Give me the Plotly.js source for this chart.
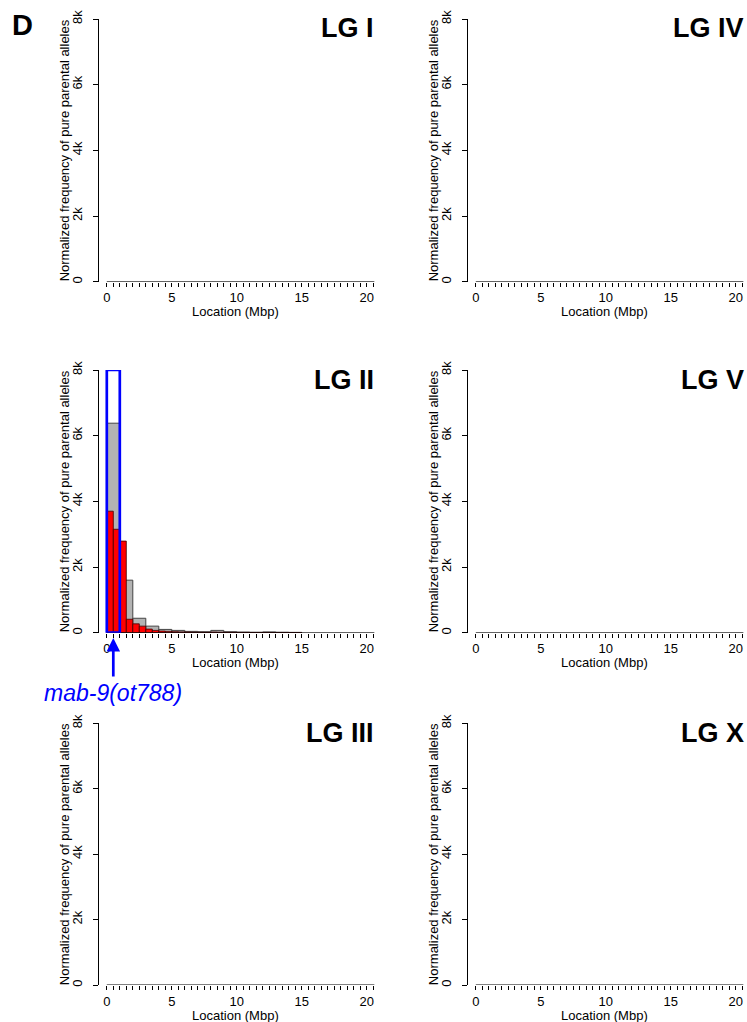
<!DOCTYPE html>
<html>
<head>
<meta charset="utf-8">
<script src="https://cdn.plot.ly/plotly-3.0.1.min.js"></script>
<style>html,body{margin:0;padding:0;background:#fff;}#chart{width:747px;height:1022px;}</style>
</head>
<body>
<div id="chart"></div>
<script>
// ---- data ----
var panelNames = ['LG I', 'LG II', 'LG III', 'LG IV', 'LG V', 'LG X'];
// LG II: grey histogram (1 Mbp bins), red histogram (0.5 Mbp bins)
var grayBinStart = [0, 1, 2, 3, 4, 5, 6, 7, 8, 9, 10, 11, 12, 13, 14];
var grayBinWidth = 1;
var grayValues = [6380, 1600, 440, 200, 100, 70, 40, 30, 70, 30, 20, 15, 25, 15, 10];
var redBinStart = [0, 0.5, 1, 1.5, 2, 2.5, 3, 3.5, 4, 4.5, 5, 5.5, 6, 6.5, 7, 7.5, 8, 8.5, 9, 9.5, 10, 10.5, 11, 11.5, 12, 12.5, 13, 13.5, 14, 14.5];
var redBinWidth = 0.5;
var redValues = [3700, 3150, 2790, 410, 270, 200, 110, 70, 50, 40, 30, 25, 20, 15, 12, 10, 20, 15, 10, 10, 8, 8, 6, 6, 8, 6, 5, 5, 4, 4];
var yTickVals = [0, 2000, 4000, 6000, 8000];
var yTickText = ['0', '2k', '4k', '6k', '8k'];
var xLabelVals = [0, 5, 10, 15, 20];
var xLabelText = ['0', '5', '10', '15', '20'];
var markerLocus = 0.5;      // mab-9(ot788) position, Mbp
var markerBox = [0, 1];     // highlighted interval, Mbp
var markerLabel = 'mab-9(ot788)';
var xTitle = 'Location (Mbp)';
var yTitle = 'Normalized frequency of pure parental alleles';

// ---- layout helpers ----
var W = 747, H = 1022;
function px(x) { return x / W; }
function py(y) { return 1 - y / H; }
var FONT = 'Liberation Sans, Arial, Helvetica, sans-serif';

var colLeft = [99, 468];             // y-axis line x (px)
var plotW = 275.6;
var rowTop = [19, 370, 723.3];
var rowBot = [281.7, 632.7, 985];
var xRange = [-0.6, 20.6];

// minor tick every 0.5 Mbp, labels only at 0,5,10,15,20
var xTickVals = [], xTickText = [];
for (var t = 0; t <= 20.5 + 1e-9; t += 0.5) {
  xTickVals.push(t);
  var k = xLabelVals.indexOf(t);
  xTickText.push(k >= 0 ? xLabelText[k] : '');
}

var layout = {
  width: W, height: H,
  margin: {l: 0, r: 0, t: 0, b: 0},
  paper_bgcolor: '#fff', plot_bgcolor: '#fff',
  showlegend: false,
  barmode: 'overlay',
  font: {family: FONT, size: 13, color: '#000'},
  annotations: [], shapes: []
};

var data = [];
for (var i = 0; i < 6; i++) {
  var col = i < 3 ? 0 : 1, row = i % 3;
  var n = i === 0 ? '' : String(i + 1);
  var xa = 'xaxis' + n, ya = 'yaxis' + n;
  layout[xa] = {
    domain: [px(colLeft[col]), px(colLeft[col] + plotW)],
    range: xRange, anchor: 'y' + n,
    showline: false, zeroline: false, showgrid: false,
    ticks: 'outside', ticklen: 4, tickwidth: 1, tickcolor: '#000',
    tickmode: 'array', tickvals: xTickVals, ticktext: xTickText,
    tickfont: {family: FONT, size: 13}, tickangle: 0, automargin: false
  };
  layout[ya] = {
    domain: [py(rowBot[row]), py(rowTop[row])],
    range: [0, 8000], anchor: 'x' + n,
    showline: true, linecolor: '#000', linewidth: 1,
    zeroline: false, showgrid: false,
    ticks: 'outside', ticklen: 5, tickwidth: 1, tickcolor: '#000',
    tickmode: 'array', tickvals: yTickVals, ticktext: yTickText,
    tickangle: -90, ticklabelstandoff: 6,
    tickfont: {family: FONT, size: 13}, automargin: false
  };
  // x axis line from 0 to 20.6
  layout.shapes.push({type: 'line', xref: 'x' + n, yref: 'y' + n, x0: 0, x1: 20.6, y0: 0, y1: 0,
    line: {color: '#000', width: 1}, layer: 'above'});
  // panel title
  layout.annotations.push({text: panelNames[i], xref: 'paper', yref: 'paper',
    x: px(col === 0 ? 376 : 746), y: py(rowTop[row] + 9.5), xanchor: 'right', yanchor: 'middle',
    showarrow: false, font: {family: FONT, size: 27, weight: 'bold', color: '#000'}});
  // x title
  layout.annotations.push({text: xTitle, xref: 'paper', yref: 'paper',
    x: px(col === 0 ? 235 : 604), y: py(rowBot[row] + 30), xanchor: 'center', yanchor: 'middle',
    showarrow: false, font: {family: FONT, size: 13, color: '#000'}});
  // y title
  layout.annotations.push({text: yTitle, xref: 'paper', yref: 'paper', textangle: -90,
    x: px(colLeft[col] - 35), y: py((rowTop[row] + rowBot[row]) / 2), xanchor: 'center', yanchor: 'middle',
    showarrow: false, font: {family: FONT, size: 13, color: '#000'}});
  if (i !== 1) {
    data.push({type: 'bar', x: [], y: [], xaxis: 'x' + n, yaxis: 'y' + n, hoverinfo: 'skip'});
  }
}

// LG II histograms
data.push({
  type: 'bar', xaxis: 'x2', yaxis: 'y2',
  x: grayBinStart.map(function (s) { return s + grayBinWidth / 2; }),
  y: grayValues, width: grayBinWidth,
  marker: {color: '#b3b3b3', line: {color: '#444', width: 1}}
});
data.push({
  type: 'bar', xaxis: 'x2', yaxis: 'y2',
  x: redBinStart.map(function (s) { return s + redBinWidth / 2; }),
  y: redValues, width: redBinWidth,
  marker: {color: '#ff0000', line: {color: '#400000', width: 0.8}}
});

// highlight box
layout.shapes.push({type: 'rect', xref: 'x2', yref: 'y2', x0: markerBox[0], x1: markerBox[1], y0: 0, y1: 8000,
  line: {color: '#0000ff', width: 2.7}, fillcolor: 'rgba(0,0,0,0)', layer: 'above'});

// arrow and label
layout.annotations.push({text: '', xref: 'x2', yref: 'paper', x: markerLocus, y: py(638),
  showarrow: true, ax: 0, ay: 40, axref: 'pixel', ayref: 'pixel',
  arrowhead: 2, arrowsize: 1, arrowwidth: 2.7, arrowcolor: '#0000ff', standoff: 0});
layout.annotations.push({text: markerLabel, xref: 'paper', yref: 'paper', x: px(113), y: py(693),
  xanchor: 'center', yanchor: 'middle', showarrow: false,
  font: {family: FONT, size: 23, style: 'italic', color: '#0000ff'}});

// panel letter
layout.annotations.push({text: 'D', xref: 'paper', yref: 'paper', x: px(22), y: py(25),
  xanchor: 'center', yanchor: 'middle', showarrow: false,
  font: {family: FONT, size: 29, weight: 'bold', color: '#000'}});

Plotly.newPlot('chart', data, layout, {staticPlot: true, displayModeBar: false});
</script>
</body>
</html>
